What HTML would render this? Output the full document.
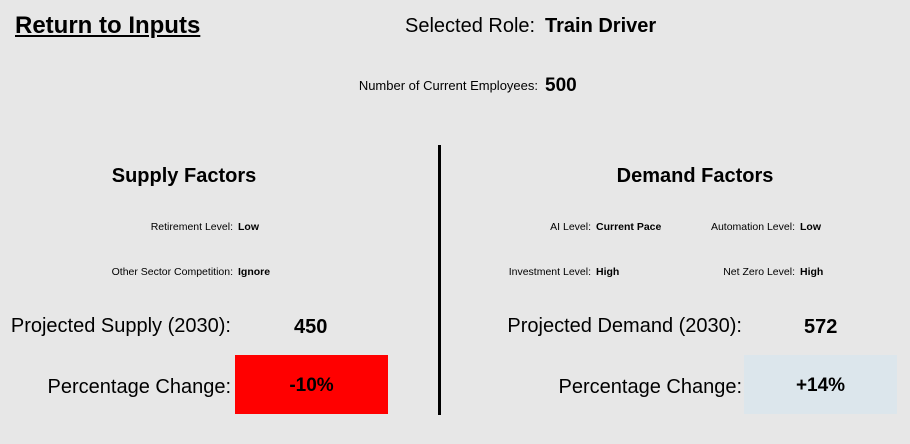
<!DOCTYPE html>
<html><head><meta charset="utf-8"><style>
body{margin:0;width:910px;height:444px;background:#e7e7e7;font-family:"Liberation Sans",sans-serif;position:relative;overflow:hidden;color:#000}
.a{position:absolute;white-space:nowrap;line-height:1}
.r{text-align:right}
.s{font-size:10.5px}
.b{font-weight:bold}
</style></head><body>
<div class="a b" style="left:15px;top:14px;font-size:24px;text-decoration:underline">Return to Inputs</div>
<div class="a" style="left:405px;top:16px;font-size:20px">Selected Role:</div>
<div class="a b" style="left:545px;top:16px;font-size:20px">Train Driver</div>
<div class="a r" style="right:372px;top:79px;font-size:13px">Number of Current Employees:</div>
<div class="a b" style="left:545px;top:76px;font-size:19px">500</div>
<div class="a" style="left:438px;top:145px;width:3px;height:270px;background:#000"></div>
<div class="a b" style="left:84px;width:200px;text-align:center;top:166px;font-size:20px">Supply Factors</div>
<div class="a b" style="left:595px;width:200px;text-align:center;top:166px;font-size:20px">Demand Factors</div>
<div class="a s r" style="right:677px;top:222px">Retirement Level:</div>
<div class="a s b" style="left:238px;top:222px">Low</div>
<div class="a s r" style="right:677px;top:267px">Other Sector Competition:</div>
<div class="a s b" style="left:238px;top:267px">Ignore</div>
<div class="a s r" style="right:319px;top:222px">AI Level:</div>
<div class="a s b" style="left:596px;top:222px">Current Pace</div>
<div class="a s r" style="right:115px;top:222px">Automation Level:</div>
<div class="a s b" style="left:800px;top:222px">Low</div>
<div class="a s r" style="right:319px;top:267px">Investment Level:</div>
<div class="a s b" style="left:596px;top:267px">High</div>
<div class="a s r" style="right:115px;top:267px">Net Zero Level:</div>
<div class="a s b" style="left:800px;top:267px">High</div>
<div class="a r" style="right:679px;top:316px;font-size:20px">Projected Supply (2030):</div>
<div class="a b" style="left:294px;top:317px;font-size:20px">450</div>
<div class="a r" style="right:168px;top:316px;font-size:20px">Projected Demand (2030):</div>
<div class="a b" style="left:804px;top:317px;font-size:20px">572</div>
<div class="a r" style="right:679px;top:377px;font-size:20px">Percentage Change:</div>
<div class="a b" style="left:235px;top:355px;width:153px;height:59px;background:#ff0000;font-size:19px;line-height:62px;text-align:center">-10%</div>
<div class="a r" style="right:168px;top:377px;font-size:20px">Percentage Change:</div>
<div class="a b" style="left:744px;top:355px;width:153px;height:59px;background:#dce6ec;font-size:19px;line-height:62px;text-align:center">+14%</div>
</body></html>
